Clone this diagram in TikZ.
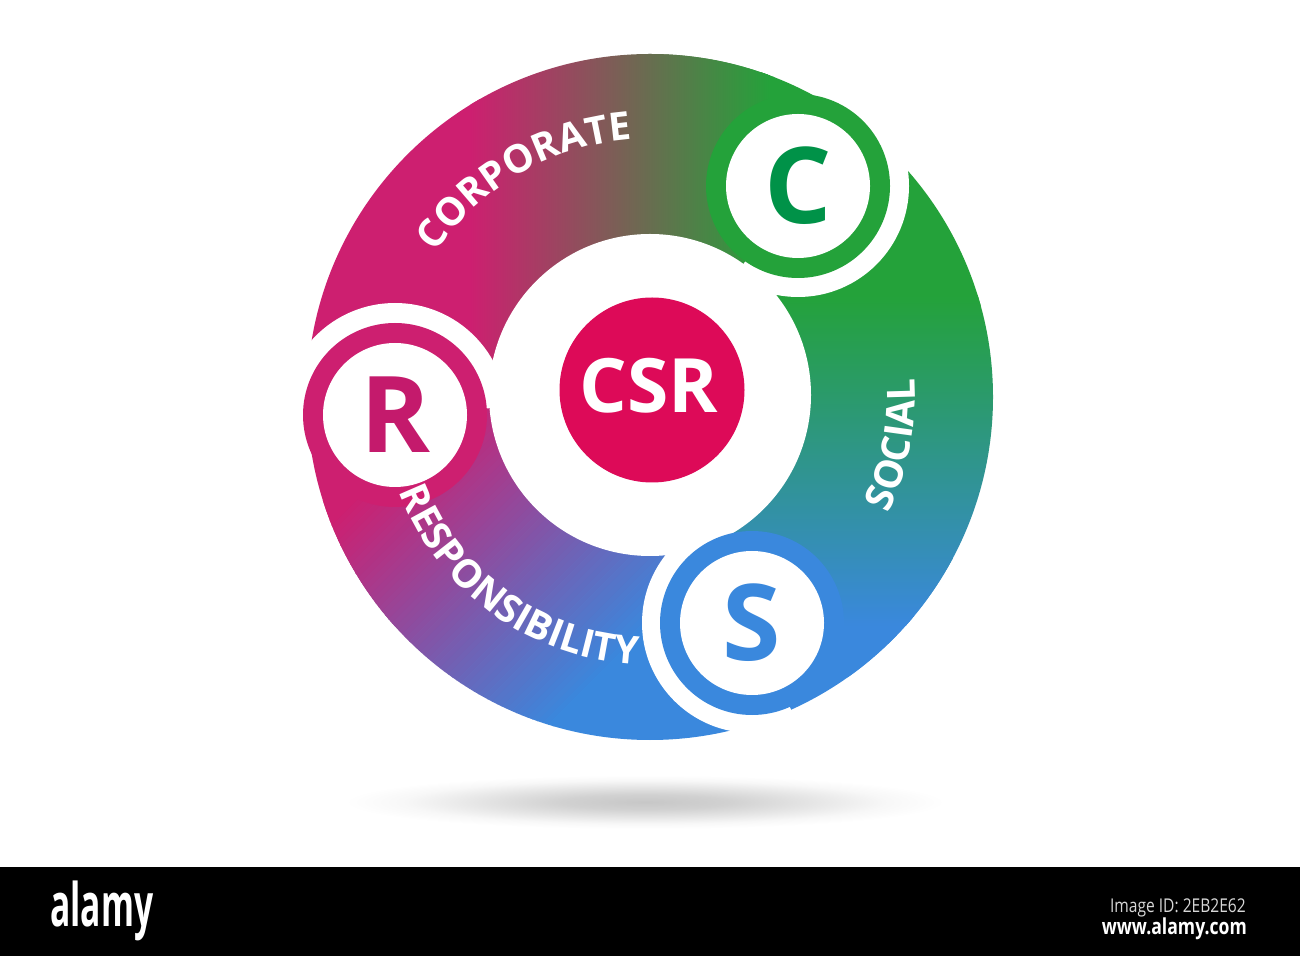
\documentclass[tikz,border=0pt]{standalone}
\usepackage{fontspec}
\setmainfont{Open Sans}
\usetikzlibrary{decorations.text}
\definecolor{cmag}{RGB}{205,31,112}
\definecolor{cgreen}{RGB}{36,162,58}
\definecolor{cblue}{RGB}{58,136,221}
\definecolor{cdkgreen}{RGB}{0,146,72}
\definecolor{rmag}{RGB}{196,26,108}
\definecolor{csrred}{RGB}{221,10,88}
\definecolor{idgray}{RGB}{215,215,215}
\pgfdeclareradialshading{shadowshade}{\pgfpoint{0bp}{0bp}}{color(0bp)=(black!22); color(7bp)=(black!18); color(14bp)=(black!10); color(20bp)=(black!3); color(25bp)=(white); color(50bp)=(white)}
\newcommand\arcfont{\fontsize{39pt}{39pt}\selectfont\bfseries\color{white}}
\newcommand\corpfill{%
  \fill[cmag] (250,100) rectangle (480,1000);
  \fill[cgreen] (760,100) rectangle (1100,1000);
  \shade[left color=cmag, right color=cgreen] (470,100) rectangle (770,1000);}
\newcommand\socfill{%
  \fill[cgreen] (200,650) rectangle (1100,1000);
  \fill[cblue] (200,0) rectangle (1100,340);
  \shade[top color=cgreen, bottom color=cblue] (200,330) rectangle (1100,660);}
\newcommand\respfill{%
  \begin{scope}[rotate around={-45:(0,0)}]
    \fill[cmag] (-900,0) rectangle (-74,1300);
    \fill[cblue] (228,0) rectangle (1000,1300);
    \foreach \i in {0,...,59}{
      \pgfmathsetmacro\rp{100*\i/59}
      \pgfmathsetmacro\rs{-75+\i*5.0667}
      \fill[cblue!\rp!cmag] (\rs,0) rectangle ({\rs+5.6},1300);
    }
  \end{scope}}
\tikzset{
  headring/.style={circle, minimum size=184pt, inner sep=0pt},
  headcore/.style={circle, fill=white, minimum size=144pt, inner sep=0pt,
    font=\fontsize{106pt}{106pt}\selectfont\bfseries},
  bartext/.style={text=white, inner sep=0pt},
}
\begin{document}
\begin{tikzpicture}[x=1pt,y=1pt]
\useasboundingbox (0,0) rectangle (1300,956);
\fill[white] (0,0) rectangle (1300,956);
\coordinate (O) at (650,559);
\coordinate (Cc) at (798,770);
\coordinate (Rc) at (395,541);
\coordinate (Sc) at (752,333);
% shadow
\shade[shading=shadowshade] (645,154) ellipse[x radius=300, y radius=27];
% bands
\begin{scope}
  \clip (O) circle (343);
  \clip (O) -- ++(54.96:420) arc[start angle=54.96, end angle=184, radius=420] -- cycle;
  \corpfill
\end{scope}
\begin{scope}
  \clip (O) circle (343);
  \clip (O) -- ++(-65.7:420) arc[start angle=-65.7, end angle=54.96, radius=420] -- cycle;
  \socfill
\end{scope}
\begin{scope}
  \clip (O) circle (343);
  \clip (O) -- ++(184:420) arc[start angle=184, end angle=294.3, radius=420] -- cycle;
  \respfill
\end{scope}
% white gaps around the heads
\fill[white] (Cc) circle (111);
\fill[white] (Rc) circle (112);
\fill[white] (Sc) circle (110);
% refill the side where each band meets its head
\begin{scope}
  \clip (O) circle (343);
  \clip (O) -- ++(54.96:420) arc[start angle=54.96, end angle=92, radius=420] -- cycle;
  \corpfill
\end{scope}
\begin{scope}
  \clip (O) circle (343);
  \clip (O) -- ++(-65.7:420) arc[start angle=-65.7, end angle=-28, radius=420] -- cycle;
  \socfill
\end{scope}
\begin{scope}
  \clip (O) circle (343);
  \clip (O) -- ++(184:420) arc[start angle=184, end angle=222, radius=420] -- cycle;
  \respfill
\end{scope}
% central hole
\fill[white] (650,561) circle (161);
% heads
\node[headring, fill=cgreen] (cring) at (Cc) {};
\node[headcore, text=cdkgreen] (cletter) at (Cc) {C};
\node[headring, fill=cmag] (rring) at (Rc) {};
\node[headcore, text=rmag] (rletter) at (Rc) {R};
\node[headring, fill=cblue] (sring) at (Sc) {};
\node[headcore, text=cblue] (sletter) at (Sc) {S};
% centre
\node[circle, fill=csrred, minimum size=185pt, inner sep=0pt] (csr) at (652,566) {};
\node[text=white, inner sep=0pt, font=\fontsize{75pt}{75pt}\selectfont\bfseries] (csrtext) at (649,570) {CSR};
% curved words
\path[decorate, decoration={text along path, text align=center, text={|\arcfont|CORPORATE}}]
  (O) ++(170:258) arc[start angle=170, end angle=70, radius=258];
\path[decorate, decoration={text along path, text align=center, text={|\arcfont|SOCIAL}}]
  (O) ++(-60:265) arc[start angle=-60, end angle=38, radius=265];
\path[decorate, decoration={text along path, text align=center, text={|\arcfont|RESPONSIBILITY}}]
  (O) ++(180:268) arc[start angle=180, end angle=288, radius=268];
% bottom bar
\fill[black] (0,0) rectangle (1300,89);
\node[bartext, anchor=base west, font=\fontsize{60pt}{60pt}\selectfont\bfseries] (logo) at (50,30) {\scalebox{0.56}[1]{alamy}};
\node[bartext, text=idgray, anchor=base east, font=\fontsize{19pt}{19pt}\selectfont] (imgid) at (1246,44) {\scalebox{0.82}[1]{Image ID: 2EB2E62}};
\node[bartext, anchor=base east, font=\fontsize{22pt}{22pt}\selectfont\bfseries] (www) at (1247,22) {\scalebox{0.8}[1]{www.alamy.com}};
\end{tikzpicture}
\end{document}
